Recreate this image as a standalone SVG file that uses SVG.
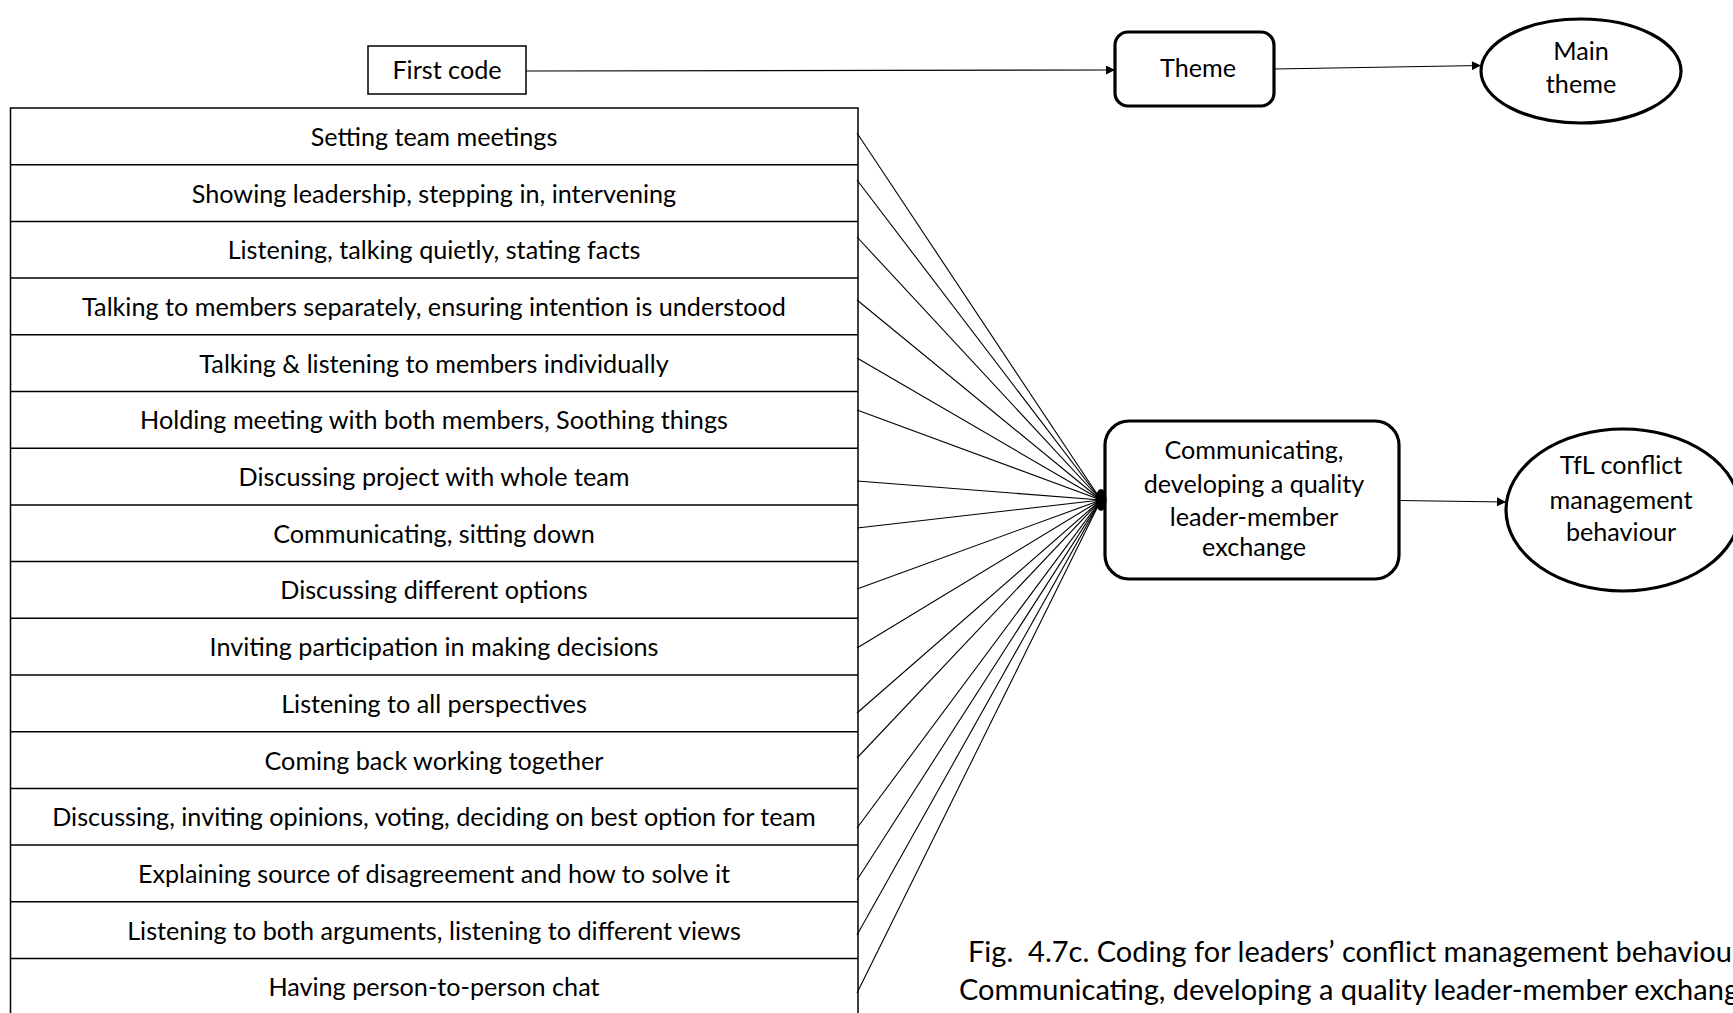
<svg xmlns="http://www.w3.org/2000/svg" width="1733" height="1013" viewBox="0 0 1733 1013">
  <style>
    .lbl { font-family: Lato, "Open Sans", "Liberation Sans", sans-serif; font-size: 25.2px; fill: #000; text-anchor: middle; }
    .cap { font-family: Lato, "Open Sans", "Liberation Sans", sans-serif; font-size: 29px; fill: #000; white-space: pre; }
    .thin { fill: #fff; stroke: #000; stroke-width: 1.5; }
    .bold { fill: #fff; stroke: #000; stroke-width: 3.2; }
    .wire { stroke: #000; stroke-width: 1.1; fill: none; }
    .flow { stroke: #000; stroke-width: 1.2; fill: none; marker-end: url(#tip); }
  </style>
  <defs>
    <marker id="tip" viewBox="0 0 10 10" refX="10" refY="5" markerWidth="10" markerHeight="9" markerUnits="userSpaceOnUse" orient="auto">
      <path d="M0,0 L10,5 L0,10 z" fill="#000"/>
    </marker>
  </defs>

  <!-- legend: first code -> theme -> main theme -->
  <g id="legend-first-code">
    <rect class="thin" x="368" y="46" width="158" height="48"/>
    <text class="lbl" x="447" y="79">First code</text>
  </g>
  <g id="legend-theme">
    <rect class="bold" x="1115" y="32" width="159" height="74" rx="13"/>
    <text class="lbl" x="1198" y="77">Theme</text>
  </g>
  <g id="legend-main-theme">
    <ellipse class="bold" cx="1581" cy="71" rx="100" ry="52"/>
    <text class="lbl" x="1581" y="59.5">Main</text>
    <text class="lbl" x="1581" y="92.5">theme</text>
  </g>

  <!-- table of first codes -->
  <g id="codes-table">
    <rect class="thin" x="10.5" y="108" width="847.5" height="907"/>
    <g stroke="#000" stroke-width="1.5">
      <line x1="10.5" y1="164.7" x2="858" y2="164.7"/>
      <line x1="10.5" y1="221.4" x2="858" y2="221.4"/>
      <line x1="10.5" y1="278.1" x2="858" y2="278.1"/>
      <line x1="10.5" y1="334.8" x2="858" y2="334.8"/>
      <line x1="10.5" y1="391.5" x2="858" y2="391.5"/>
      <line x1="10.5" y1="448.2" x2="858" y2="448.2"/>
      <line x1="10.5" y1="504.9" x2="858" y2="504.9"/>
      <line x1="10.5" y1="561.6" x2="858" y2="561.6"/>
      <line x1="10.5" y1="618.3" x2="858" y2="618.3"/>
      <line x1="10.5" y1="675" x2="858" y2="675"/>
      <line x1="10.5" y1="731.7" x2="858" y2="731.7"/>
      <line x1="10.5" y1="788.4" x2="858" y2="788.4"/>
      <line x1="10.5" y1="845.1" x2="858" y2="845.1"/>
      <line x1="10.5" y1="901.8" x2="858" y2="901.8"/>
      <line x1="10.5" y1="958.5" x2="858" y2="958.5"/>
    </g>
    <text class="lbl" x="434" y="145.5">Setting team meetings</text>
    <text class="lbl" x="434" y="202.5">Showing leadership, stepping in, intervening</text>
    <text class="lbl" x="434" y="259">Listening, talking quietly, stating facts</text>
    <text class="lbl" x="434" y="315.5">Talking to members separately, ensuring intention is understood</text>
    <text class="lbl" x="434" y="372.5">Talking &amp; listening to members individually</text>
    <text class="lbl" x="434" y="429">Holding meeting with both members, Soothing things</text>
    <text class="lbl" x="434" y="485.5">Discussing project with whole team</text>
    <text class="lbl" x="434" y="542.5">Communicating, sitting down</text>
    <text class="lbl" x="434" y="599">Discussing different options</text>
    <text class="lbl" x="434" y="656">Inviting participation in making decisions</text>
    <text class="lbl" x="434" y="712.5">Listening to all perspectives</text>
    <text class="lbl" x="434" y="769.5">Coming back working together</text>
    <text class="lbl" x="434" y="826">Discussing, inviting opinions, voting, deciding on best option for team</text>
    <text class="lbl" x="434" y="882.5">Explaining source of disagreement and how to solve it</text>
    <text class="lbl" x="434" y="939.5">Listening to both arguments, listening to different views</text>
    <text class="lbl" x="434" y="996">Having person-to-person chat</text>
  </g>

  <!-- theme and main theme -->
  <g id="theme-communicating">
    <rect class="bold" x="1105" y="421" width="294" height="158" rx="24"/>
    <text class="lbl" x="1254" y="458.5">Communicating,</text>
    <text class="lbl" x="1254" y="492.5">developing a quality</text>
    <text class="lbl" x="1254" y="525.5">leader-member</text>
    <text class="lbl" x="1254" y="555.5">exchange</text>
  </g>
  <g id="main-theme-tfl">
    <ellipse class="bold" cx="1623" cy="510" rx="117" ry="81"/>
    <text class="lbl" x="1621" y="473.5">TfL conflict</text>
    <text class="lbl" x="1621" y="508.5">management</text>
    <text class="lbl" x="1621" y="540.5">behaviour</text>
  </g>

  <!-- connectors -->
  <g id="connectors">
    <path class="flow" d="M526,71 L1115,70"/>
    <path class="flow" d="M1274,69 L1481,65.5"/>
    <path class="flow" d="M1399,500.5 L1506,502"/>
    <g class="wire">
      <line x1="857" y1="133" x2="1101" y2="500"/>
      <line x1="857" y1="180" x2="1101" y2="500"/>
      <line x1="857" y1="237" x2="1101" y2="500"/>
      <line x1="857" y1="300" x2="1101" y2="500"/>
      <line x1="857" y1="358" x2="1101" y2="500"/>
      <line x1="857" y1="410" x2="1101" y2="500"/>
      <line x1="857" y1="481" x2="1101" y2="500"/>
      <line x1="857" y1="528" x2="1101" y2="500"/>
      <line x1="857" y1="589" x2="1101" y2="500"/>
      <line x1="857" y1="648" x2="1101" y2="500"/>
      <line x1="857" y1="713" x2="1101" y2="500"/>
      <line x1="857" y1="758" x2="1101" y2="500"/>
      <line x1="857" y1="828" x2="1101" y2="500"/>
      <line x1="857" y1="880" x2="1101" y2="500"/>
      <line x1="857" y1="935" x2="1101" y2="500"/>
      <line x1="857" y1="993" x2="1101" y2="500"/>
    </g>
    <ellipse cx="1101" cy="500" rx="5.5" ry="11" fill="#000"/>
  </g>

  <!-- caption -->
  <g id="caption">
    <text class="cap" x="968" y="962" xml:space="preserve">Fig.  4.7c. Coding for leaders’ conflict management behaviour</text>
    <text class="cap" x="959" y="1000">Communicating, developing a quality leader-member exchange</text>
  </g>
</svg>
